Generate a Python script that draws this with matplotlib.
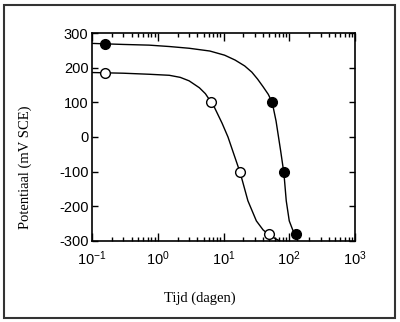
import numpy as np
import matplotlib
matplotlib.use("Agg")
import matplotlib.pyplot as plt
from matplotlib.patches import Rectangle
from matplotlib.ticker import LogLocator, NullFormatter

plt.rcParams['font.family'] = ['Liberation Sans', 'DejaVu Sans']
plt.rcParams['mathtext.fontset'] = 'custom'
plt.rcParams['mathtext.rm'] = 'Liberation Sans'
plt.rcParams['mathtext.it'] = 'Liberation Sans'
plt.rcParams['axes.unicode_minus'] = False

# curve (filled series)
dicht_t = [0.1, 0.3, 0.74, 1.5, 3.0, 6.2, 10.4, 15, 21, 27, 33, 40, 48, 55,
           63, 74, 83, 90, 100, 115, 125, 135]
dicht_v = [270, 267, 265, 261, 256, 248, 236, 222, 205, 187, 167, 145, 123, 100,
           46, -40, -105, -184, -242, -272, -285, -300]
dicht_pt_t = [0.16, 55, 83, 125]
dicht_pt_v = [268, 100, -100, -280]

# open series
open_t = [0.1, 0.3, 0.74, 1.5, 2.2, 3.0, 4.3, 5.3, 6.5, 7.3, 9.5, 11.7, 15,
          18, 23.5, 31.6, 40, 49, 60, 72]
open_v = [186, 184, 181, 178, 172, 162, 142, 125, 100, 85, 40, 0, -60,
          -104, -184, -242, -268, -282, -292, -300]
open_pt_t = [0.16, 6.5, 18, 49]
open_pt_v = [184, 100, -100, -280]

x_ticks = [0.1, 1, 10, 100, 1000]
x_labels = ['$10^{-1}$', '$10^{0}$', '$10^{1}$', '$10^{2}$', '$10^{3}$']
y_ticks = [-300, -200, -100, 0, 100, 200, 300]
y_labels = ['-300', '-200', '-100', '0', '100', '200', '300']

fig = plt.figure(figsize=(4.0, 3.22), dpi=100)
ax = fig.add_axes([0.23, 0.2516, 0.6575, 0.6459])

ax.plot(dicht_t, dicht_v, color='black', lw=1.0)
ax.plot(open_t, open_v, color='black', lw=1.0)
ax.plot(dicht_pt_t, dicht_pt_v, 'o', ms=7, mfc='black', mec='black', clip_on=False)
ax.plot(open_pt_t, open_pt_v, 'o', ms=7, mfc='white', mec='black', mew=1.0, clip_on=False)

ax.set_xscale('log')
ax.set_xlim(0.1, 1000)
ax.set_ylim(-300, 300)
ax.set_xticks(x_ticks)
ax.set_xticklabels(x_labels)
ax.xaxis.set_minor_locator(LogLocator(base=10, subs=np.arange(2, 10)))
ax.xaxis.set_minor_formatter(NullFormatter())
ax.set_yticks(y_ticks)
ax.set_yticklabels(y_labels)

ax.tick_params(axis='both', which='both', direction='in', top=True, right=True,
               width=1.0, labelsize=10.5)
ax.tick_params(axis='x', which='major', length=6, pad=6)
ax.tick_params(axis='x', which='minor', length=3)
ax.tick_params(axis='y', which='major', length=4, pad=2.5)
for s in ax.spines.values():
    s.set_linewidth(1.2)

fig.text(200 / 400, 1 - 298 / 322, 'Tijd (dagen)', ha='center', va='center',
         family='Liberation Serif', fontsize=10.5)
fig.text(25 / 400, 1 - 167 / 322, 'Potentiaal (mV SCE)', ha='center', va='center',
         rotation=90, family='Liberation Serif', fontsize=10.5)

fig.patches.append(Rectangle((4 / 400, 4 / 322), 391 / 400, 313 / 322,
                             transform=fig.transFigure, fill=False,
                             edgecolor='#333333', lw=1.5))

fig.savefig('out.png', dpi=100)
